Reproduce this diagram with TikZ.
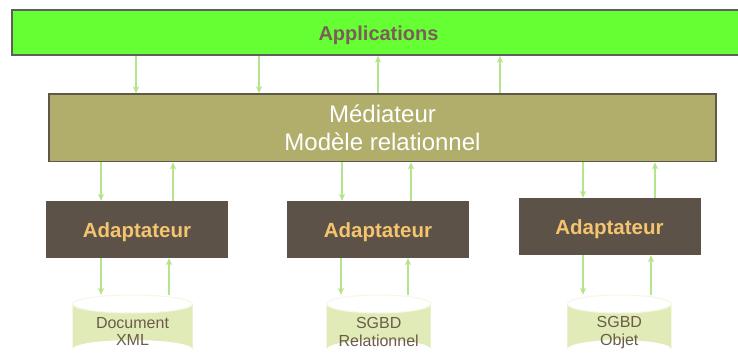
\documentclass[tikz,border=0pt]{standalone}
\usepackage{fontspec}
\setmainfont{Liberation Sans}
\usetikzlibrary{arrows.meta}

\definecolor{appgreen}{HTML}{66FF33}
\definecolor{apptxt}{HTML}{7D5C5C}
\definecolor{medfill}{HTML}{B1AE6C}
\definecolor{medline}{HTML}{5E5848}
\definecolor{boxline}{HTML}{5E5E5E}
\definecolor{adfill}{HTML}{5C5248}
\definecolor{adtxt}{HTML}{F5C46F}
\definecolor{drumfill}{HTML}{E1EBB7}
\definecolor{drumrim}{HTML}{F4F8E4}
\definecolor{drumtxt}{HTML}{6B5B4B}
\definecolor{flowgreen}{HTML}{B5E58A}

% a database drum: #1 name, #2 centre x, #3 half width
\newcommand{\dbdrum}[3]{%
  \fill[drumfill] (#2-#3,304) -- (#2-#3,349)
    arc[start angle=180,end angle=360,x radius=#3,y radius=9]
    -- (#2+#3,304)
    arc[start angle=0,end angle=180,x radius=#3,y radius=9] -- cycle;
  \draw[drumrim,line width=1pt] (#2,304) ellipse[x radius=#3,y radius=9];
  \node[inner sep=0pt,minimum width=2*#3pt,minimum height=63pt] (#1) at (#2,326.5) {};
}

\begin{document}
\begin{tikzpicture}[x=1pt,y=-1pt,
  appbox/.style={draw=boxline,line width=1.5pt,fill=appgreen,inner sep=0pt},
  medbox/.style={draw=medline,line width=1.5pt,fill=medfill,inner sep=0pt},
  adbox/.style={fill=adfill,inner sep=0pt,minimum width=182pt,minimum height=57pt},
  apptext/.style={text=apptxt,font=\bfseries\fontsize{20}{24}\selectfont,inner sep=0pt,anchor=base},
  medtext/.style={text=white,font=\fontsize{24}{28}\selectfont,inner sep=0pt,anchor=base},
  adtext/.style={text=adtxt,font=\bfseries\fontsize{20.5}{24}\selectfont,inner sep=0pt,anchor=base},
  drumtext/.style={text=drumtxt,font=\fontsize{16}{18}\selectfont,inner sep=0pt,anchor=base},
  flow/.style={draw=flowgreen,line width=1.2pt,-{Stealth[length=7pt,width=6pt,inset=2pt]}}
]
\useasboundingbox (0,0) rectangle (738,356);
\clip (0,0) rectangle (738,356);
\fill[white] (0,0) rectangle (738,356);

% layers
\node[appbox,minimum width=733pt,minimum height=45pt] (app) at (378.5,32.5) {};
\node[apptext] (applbl) at (378.5,40) {Applications};

\node[medbox,minimum width=667pt,minimum height=67.5pt] (med) at (382.5,127.75) {};
\node[medtext] (medl1) at (382.5,122) {Médiateur};
\node[medtext] (medl2) at (382.5,150) {Modèle relationnel};

\node[adbox] (ad1) at (137,229.5) {};
\node[adbox] (ad2) at (378,229.5) {};
\node[adbox] (ad3) at (609.5,226.5) {};
\node[adtext] (ad1l) at (137,237) {Adaptateur};
\node[adtext] (ad2l) at (378,237) {Adaptateur};
\node[adtext] (ad3l) at (609.5,234) {Adaptateur};

% sources
\dbdrum{db1}{132.5}{60}
\dbdrum{db2}{378.7}{52}
\dbdrum{db3}{619.3}{52}
\node[drumtext] (db1a) at (132.5,328) {Document};
\node[drumtext] (db1b) at (132.5,345) {XML};
\node[drumtext] (db2a) at (378.7,328) {SGBD};
\node[drumtext] (db2b) at (378.7,346.5) {Relationnel};
\node[drumtext] (db3a) at (619.3,327) {SGBD};
\node[drumtext] (db3b) at (619.3,345) {Objet};

% applications <-> mediator
\draw[flow] (app.south -| 136,0) -- (med.north -| 136,0);
\draw[flow] (app.south -| 259,0) -- (med.north -| 259,0);
\draw[flow] (med.north -| 378,0) -- (app.south -| 378,0);
\draw[flow] (med.north -| 500,0) -- (app.south -| 500,0);

% mediator <-> adapters
\draw[flow] (med.south -| 101,0) -- (ad1.north -| 101,0);
\draw[flow] (ad1.north -| 173,0) -- (med.south -| 173,0);
\draw[flow] (med.south -| 342,0) -- (ad2.north -| 342,0);
\draw[flow] (ad2.north -| 411,0) -- (med.south -| 411,0);
\draw[flow] (med.south -| 583,0) -- (ad3.north -| 583,0);
\draw[flow] (ad3.north -| 655,0) -- (med.south -| 655,0);

% adapters <-> sources
\draw[flow] (ad1.south -| 101,0) -- (db1.north -| 101,0);
\draw[flow] (db1.north -| 169,0) -- (ad1.south -| 169,0);
\draw[flow] (ad2.south -| 341,0) -- (db2.north -| 341,0);
\draw[flow] (db2.north -| 408,0) -- (ad2.south -| 408,0);
\draw[flow] (ad3.south -| 583,0) -- (db3.north -| 583,0);
\draw[flow] (db3.north -| 651,0) -- (ad3.south -| 651,0);
\end{tikzpicture}
\end{document}
